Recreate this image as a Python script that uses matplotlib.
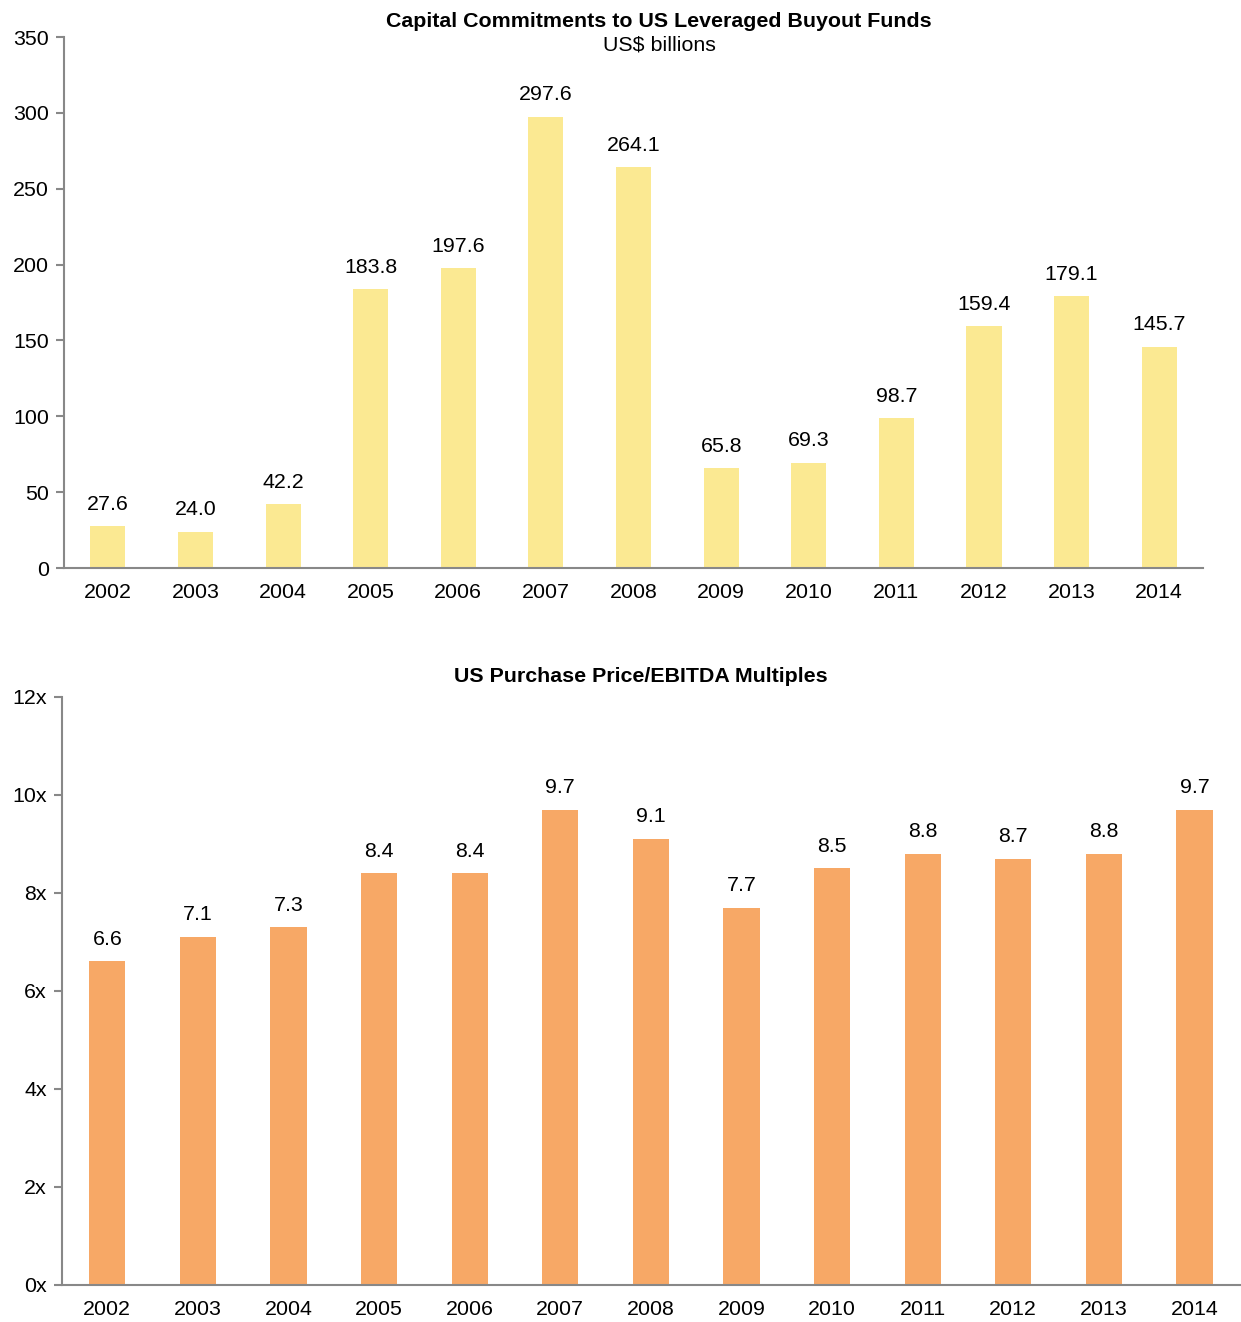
import matplotlib.pyplot as plt

years = ["2002", "2003", "2004", "2005", "2006", "2007", "2008",
         "2009", "2010", "2011", "2012", "2013", "2014"]
commitments = [27.6, 24.0, 42.2, 183.8, 197.6, 297.6, 264.1,
               65.8, 69.3, 98.7, 159.4, 179.1, 145.7]
multiples = [6.6, 7.1, 7.3, 8.4, 8.4, 9.7, 9.1, 7.7, 8.5, 8.8, 8.7, 8.8, 9.7]

plt.rcParams["font.family"] = ["Liberation Sans", "DejaVu Sans"]
plt.rcParams["font.size"] = 15.4

fig = plt.figure(figsize=(12.41, 13.22), dpi=100)
ax1 = fig.add_axes([0.0516, 0.5703, 0.9178, 0.4017])
ax2 = fig.add_axes([0.050, 0.028, 0.949, 0.4449])


def style(ax):
    for side in ["top", "right"]:
        ax.spines[side].set_visible(False)
    for side in ["left", "bottom"]:
        ax.spines[side].set_color("#888888")
        ax.spines[side].set_linewidth(1.5)
    ax.tick_params(axis="y", length=6, width=1.5, color="#888888", pad=5)
    ax.tick_params(axis="x", length=0, pad=11)
    ax.set_xlim(-0.5, len(years) - 0.5)


x = range(len(years))
bars1 = ax1.bar(x, commitments, width=0.4, color="#FBE992")
style(ax1)
ax1.set_ylim(0, 350)
ax1.set_yticks(range(0, 351, 50))
ax1.set_xticks(list(x))
ax1.set_xticklabels(years)
for b, v in zip(bars1, commitments):
    ax1.annotate(f"{v:.1f}", (b.get_x() + b.get_width() / 2, v),
                 xytext=(0, 9), textcoords="offset points",
                 ha="center", va="bottom")

bars2 = ax2.bar(x, multiples, width=0.4, color="#F7A866")
style(ax2)
ax2.set_ylim(0, 12)
ax2.set_yticks(range(0, 13, 2))
ax2.set_yticklabels([f"{t}x" for t in range(0, 13, 2)])
ax2.set_xticks(list(x))
ax2.set_xticklabels(years)
for b, v in zip(bars2, multiples):
    ax2.annotate(f"{v:.1f}", (b.get_x() + b.get_width() / 2, v),
                 xytext=(0, 9), textcoords="offset points",
                 ha="center", va="bottom")

fig.text(0.531, 0.984, "Capital Commitments to US Leveraged Buyout Funds",
         ha="center", va="center", fontweight="bold")
fig.text(0.531, 0.966, "US$ billions", ha="center", va="center")
fig.text(0.516, 0.488, "US Purchase Price/EBITDA Multiples",
         ha="center", va="center", fontweight="bold")

fig.savefig("out.png", dpi=100)
